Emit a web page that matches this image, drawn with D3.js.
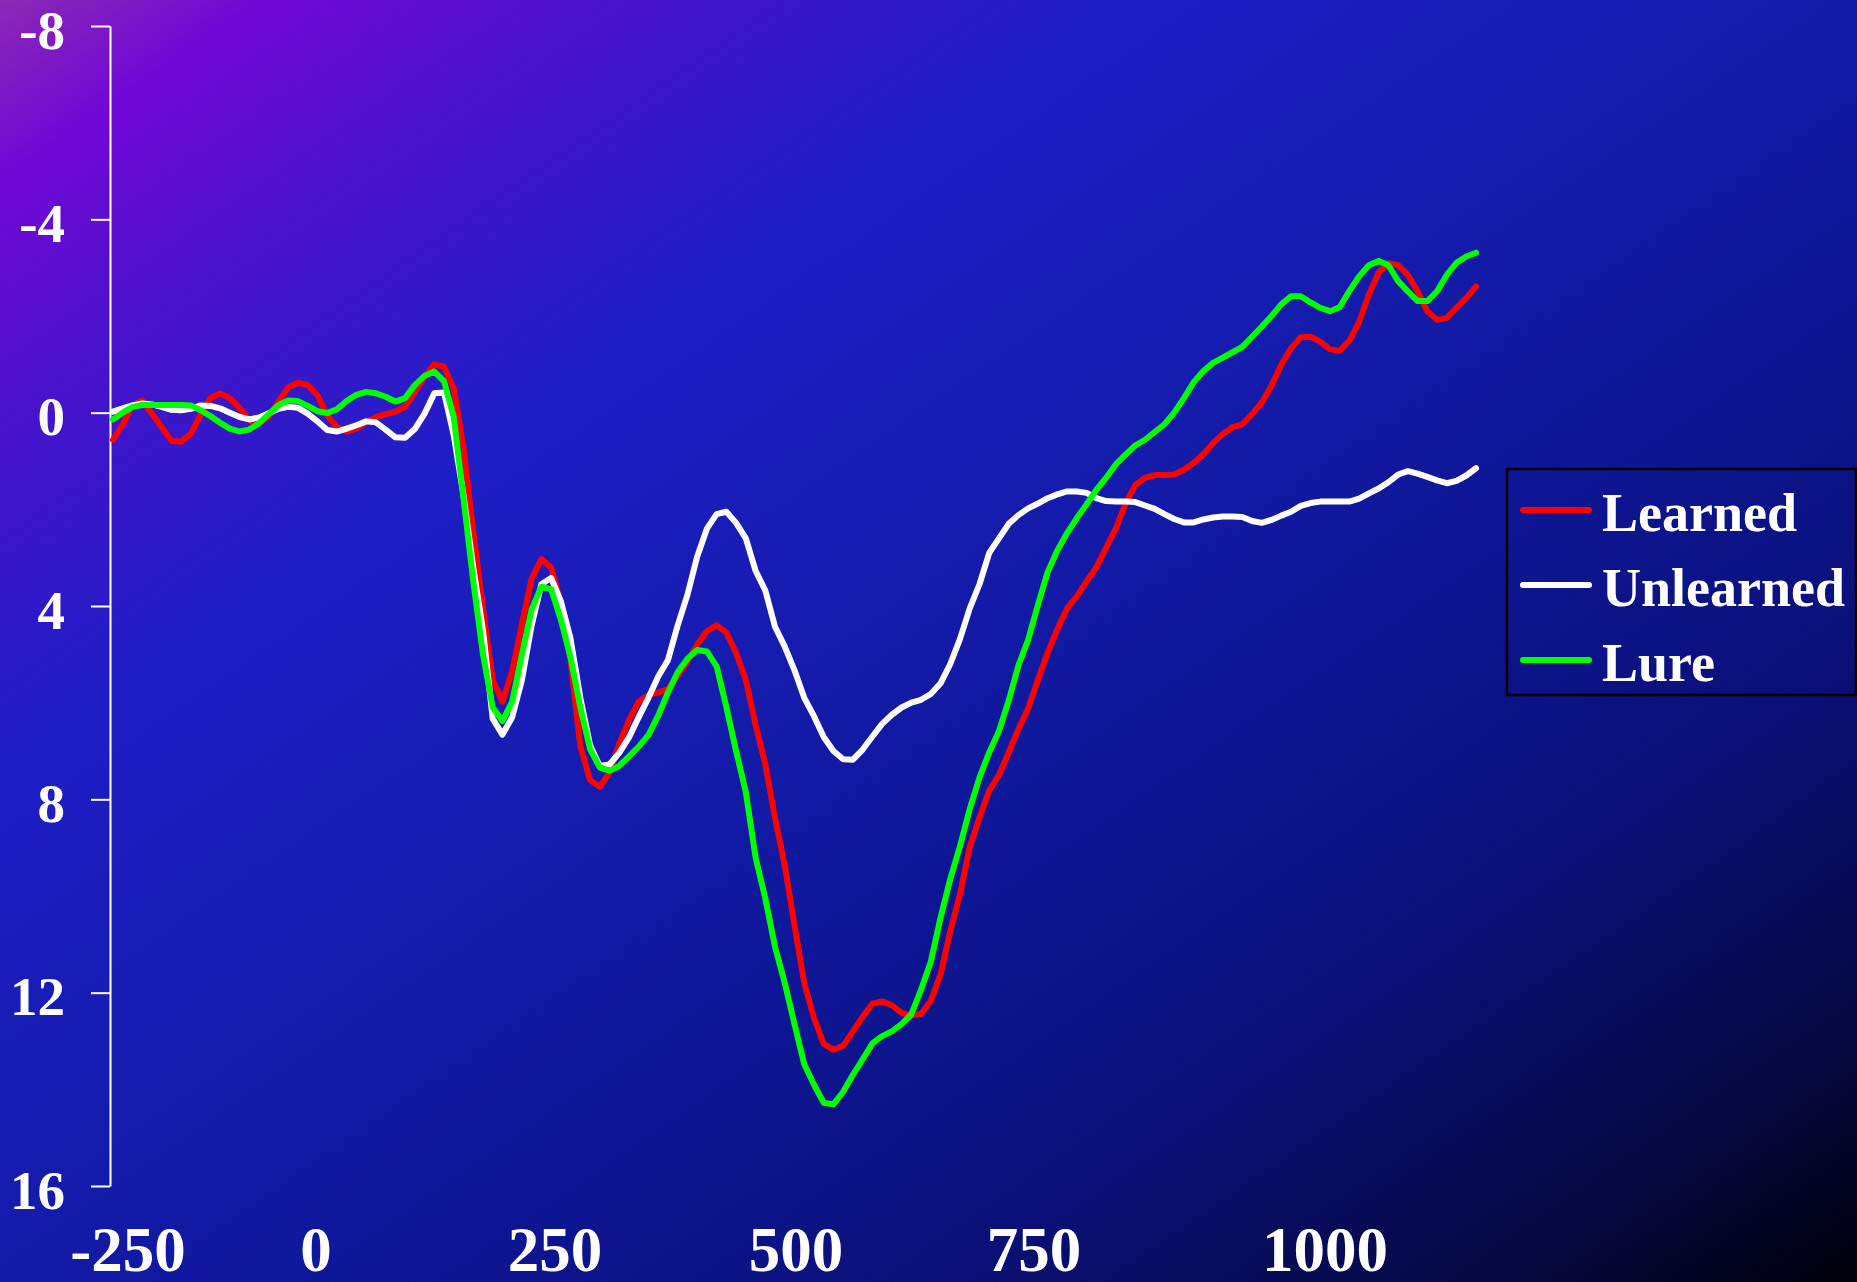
<!DOCTYPE html>
<html>
<head>
<meta charset="utf-8">
<script src="https://cdn.jsdelivr.net/npm/d3@7"></script>
<style>
  html, body { margin: 0; padding: 0; background: #000; overflow: hidden; }
  svg { display: block; }
</style>
</head>
<body>
<svg id="chart"></svg>
<script>
// ERP grand averages, sampled every 10 ms from -200 ms to 1200 ms (µV, negative plotted up)
const sampleStartMs = -200;
const sampleStepMs = 10;

const learned = [
  0.56, 0.24, -0.15, -0.25, 0.02, 0.30, 0.58, 0.60, 0.44, 0.04,
  -0.30, -0.40, -0.30, -0.10, 0.16, 0.22, 0.08, -0.23, -0.52, -0.62,
  -0.57, -0.36, 0.05, 0.30, 0.39, 0.33, 0.20, 0.09, 0.03, -0.02,
  -0.12, -0.42, -0.74, -1.00, -0.95, -0.50, 0.72, 2.45, 4.05, 5.53,
  5.98, 5.35, 4.37, 3.44, 3.03, 3.20, 3.94, 5.14, 6.90, 7.60,
  7.74, 7.45, 6.85, 6.36, 5.98, 5.84, 5.79, 5.72, 5.45, 5.15,
  4.80, 4.52, 4.40, 4.55, 4.97, 5.53, 6.46, 7.27, 8.39, 9.37,
  10.61, 11.80, 12.52, 13.06, 13.18, 13.10, 12.80, 12.50, 12.23, 12.18,
  12.26, 12.42, 12.47, 12.44, 12.17, 11.62, 10.73, 9.96, 8.98, 8.38,
  7.82, 7.50, 7.03, 6.55, 6.12, 5.53, 4.97, 4.48, 4.05, 3.80,
  3.49, 3.20, 2.80, 2.40, 1.88, 1.50, 1.35, 1.29, 1.29, 1.28,
  1.18, 1.04, 0.86, 0.63, 0.44, 0.30, 0.24, 0.03, -0.21, -0.56,
  -0.99, -1.33, -1.56, -1.57, -1.47, -1.31, -1.28, -1.49, -1.88, -2.44,
  -2.90, -3.09, -3.05, -2.85, -2.51, -2.10, -1.92, -1.96, -2.17, -2.37,
  -2.61
];

const unlearned = [
  -0.02, -0.09, -0.15, -0.19, -0.17, -0.12, -0.06, -0.05, -0.08, -0.15,
  -0.14, -0.09, 0.00, 0.09, 0.14, 0.10, 0.01, -0.08, -0.12, -0.10,
  0.02, 0.18, 0.36, 0.39, 0.33, 0.26, 0.18, 0.20, 0.35, 0.51,
  0.52, 0.34, 0.02, -0.40, -0.42, 0.47, 1.71, 3.20, 4.50, 6.33,
  6.66, 6.30, 5.53, 4.40, 3.55, 3.42, 3.90, 4.68, 5.90, 6.88,
  7.31, 7.28, 7.04, 6.72, 6.30, 5.90, 5.46, 5.12, 4.40, 3.77,
  2.98, 2.40, 2.10, 2.05, 2.28, 2.60, 3.27, 3.68, 4.43, 4.84,
  5.33, 5.90, 6.28, 6.71, 7.00, 7.17, 7.18, 6.97, 6.70, 6.44,
  6.25, 6.10, 6.00, 5.94, 5.82, 5.60, 5.20, 4.68, 4.05, 3.55,
  2.90, 2.60, 2.30, 2.12, 1.98, 1.88, 1.77, 1.69, 1.63, 1.63,
  1.66, 1.77, 1.83, 1.84, 1.84, 1.85, 1.92, 1.99, 2.10, 2.20,
  2.27, 2.27, 2.21, 2.17, 2.15, 2.15, 2.16, 2.24, 2.28, 2.22,
  2.13, 2.05, 1.93, 1.87, 1.84, 1.84, 1.84, 1.84, 1.78, 1.67,
  1.57, 1.44, 1.28, 1.21, 1.26, 1.33, 1.40, 1.46, 1.41, 1.30,
  1.15
];

const lure = [
  0.14, 0.00, -0.12, -0.16, -0.16, -0.16, -0.16, -0.16, -0.15, -0.05,
  0.07, 0.21, 0.33, 0.39, 0.35, 0.22, 0.03, -0.16, -0.25, -0.24,
  -0.14, -0.03, 0.01, -0.07, -0.24, -0.37, -0.43, -0.40, -0.33, -0.23,
  -0.30, -0.57, -0.76, -0.85, -0.65, 0.09, 1.77, 3.48, 5.00, 6.10,
  6.38, 5.98, 5.00, 4.07, 3.60, 3.65, 4.28, 5.07, 6.10, 6.96,
  7.34, 7.41, 7.31, 7.11, 6.91, 6.67, 6.27, 5.79, 5.37, 5.09,
  4.91, 4.94, 5.25, 6.09, 7.00, 7.85, 9.20, 10.05, 11.05, 11.80,
  12.65, 13.48, 13.90, 14.28, 14.31, 14.05, 13.70, 13.38, 13.05, 12.90,
  12.80, 12.65, 12.45, 11.94, 11.36, 10.45, 9.65, 8.97, 8.20, 7.55,
  7.03, 6.59, 5.96, 5.23, 4.70, 3.98, 3.30, 2.85, 2.49, 2.18,
  1.90, 1.60, 1.35, 1.07, 0.87, 0.68, 0.56, 0.40, 0.24, 0.00,
  -0.30, -0.63, -0.86, -1.03, -1.14, -1.25, -1.36, -1.57, -1.78, -2.00,
  -2.24, -2.41, -2.41, -2.28, -2.17, -2.10, -2.18, -2.52, -2.82, -3.05,
  -3.14, -3.05, -2.72, -2.51, -2.31, -2.31, -2.51, -2.85, -3.10, -3.23,
  -3.31
];

const seriesNames = ["Learned", "Unlearned", "Lure"];
const seriesValues = [learned, unlearned, lure];
const seriesColors = ["#ff0000", "#ffffff", "#00ff00"];

const yTickValues = [-8, -4, 0, 4, 8, 12, 16];
const xTickLabels = ["-250", "0", "250", "500", "750", "1000"];

// ---- layout ----
const W = 1857, H = 1282;
const FONT = "'Liberation Serif', 'Times New Roman', Times, serif";

const svg = d3.select("#chart").attr("width", W).attr("height", H);

// background: violet corner fading through blue to black
const bgStops = [
  [0.00, "#8a2ab4"],
  [0.07, "#7208d6"],
  [0.16, "#4a12cc"],
  [0.30, "#1e1ec6"],
  [0.45, "#161cb0"],
  [0.60, "#0e1696"],
  [0.75, "#0a1078"],
  [0.90, "#050840"],
  [1.00, "#000008"]
];
const defs = svg.append("defs");
const grad = defs.append("linearGradient")
  .attr("id", "bg").attr("x1", 0).attr("y1", 0).attr("x2", 1).attr("y2", 1);
grad.selectAll("stop").data(bgStops).join("stop")
  .attr("offset", d => d[0]).attr("stop-color", d => d[1]);
svg.append("rect").attr("width", W).attr("height", H).attr("fill", "url(#bg)");

// scales
const x = d3.scaleLinear().domain([-200, 1200]).range([113, 1476]);
const y = d3.scaleLinear().domain([-8, 16]).range([26, 1186]);
// the time labels under the plot sit on their own spacing
const xLabelPos = d3.scaleLinear()
  .domain([-250, 0, 250, 500, 750, 1000])
  .range([128, 316, 555, 796, 1034, 1325]);

// y axis
const yAxis = svg.append("g")
  .attr("transform", "translate(110,0)")
  .call(d3.axisLeft(y)
    .tickValues(yTickValues)
    .tickSize(19)
    .tickSizeOuter(0)
    .tickPadding(26)
    .tickFormat(d => String(d)));
yAxis.select(".domain").attr("stroke", "#fff").attr("stroke-width", 2);
yAxis.selectAll(".tick line").attr("stroke", "#fff").attr("stroke-width", 2);
yAxis.selectAll(".tick text")
  .attr("fill", "#fff")
  .attr("dy", "0.4em")
  .style("font-family", FONT)
  .style("font-weight", "bold")
  .style("font-size", "55px");

// x tick labels
svg.append("g").selectAll("text").data(xTickLabels).join("text")
  .attr("x", d => xLabelPos(+d))
  .attr("y", 1271)
  .attr("text-anchor", "middle")
  .attr("fill", "#fff")
  .style("font-family", FONT)
  .style("font-weight", "bold")
  .style("font-size", "63px")
  .text(d => d);

// waveforms
const line = d3.line()
  .x((d, i) => x(sampleStartMs + i * sampleStepMs))
  .y(d => y(d));

svg.append("g").selectAll("path").data(seriesValues).join("path")
  .attr("d", d => line(d))
  .attr("fill", "none")
  .attr("stroke", (d, i) => seriesColors[i])
  .attr("stroke-width", 6)
  .attr("stroke-linejoin", "round")
  .attr("stroke-linecap", "round");

// legend
const legend = svg.append("g");
legend.append("rect")
  .attr("x", 1507).attr("y", 469)
  .attr("width", 349).attr("height", 226)
  .attr("fill", "none")
  .attr("stroke", "#000")
  .attr("stroke-width", 2.5);
const items = legend.selectAll("g.item").data(seriesNames).join("g")
  .attr("class", "item")
  .attr("transform", (d, i) => `translate(0,${i * 75})`);
items.append("line")
  .attr("x1", 1523).attr("x2", 1589)
  .attr("y1", 510).attr("y2", 510)
  .attr("stroke", (d, i) => seriesColors[i])
  .attr("stroke-width", 6)
  .attr("stroke-linecap", "round");
items.append("text")
  .attr("x", 1602).attr("y", 531)
  .attr("fill", "#fff")
  .style("font-family", FONT)
  .style("font-weight", "bold")
  .style("font-size", "54px")
  .text(d => d);
</script>
</body>
</html>
